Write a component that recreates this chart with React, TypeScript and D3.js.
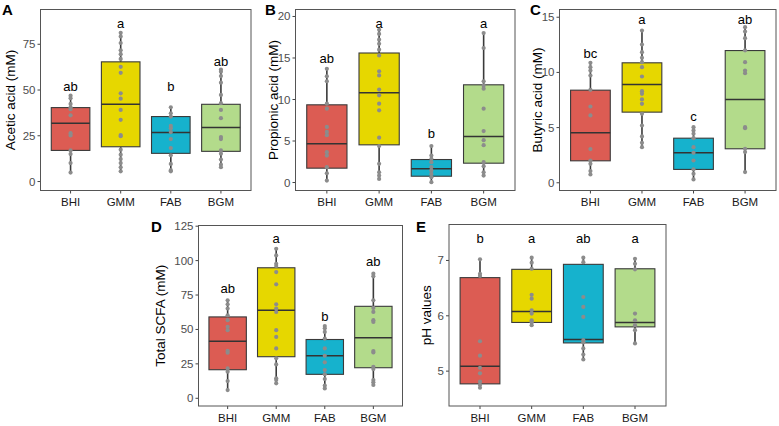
import React from "react";
import * as d3 from "d3";

const categories = ["BHI", "GMM", "FAB", "BGM"];
const fills = ["#DC5C53", "#E6D700", "#16B2CD", "#B3DB8B"];

// box stats per group: [whiskerLow, q1, median, q3, whiskerHigh]
const aceticBox = [
  [4.9, 17.0, 31.9, 40.4, 46.9],
  [5.6, 19.0, 42.2, 65.4, 81.3],
  [5.6, 15.4, 26.8, 35.5, 40.6],
  [7.8, 16.5, 29.5, 42.2, 61.2],
];
const aceticPoints = [
  [46.9, 45.5, 42.4, 40.6, 39.5, 36.2, 26.4, 25.2, 17.0, 15.0, 10.1, 4.9],
  [81.3, 79.3, 75.7, 71.7, 69.6, 67.0, 62.7, 59.4, 48.2, 45.3, 39.1, 33.7, 25.4, 24.8, 17.4, 14.7, 12.3, 10.1, 7.8, 5.6],
  [40.6, 37.3, 35.5, 30.4, 29.1, 27.0, 23.2, 18.3, 14.3, 9.6, 6.2, 5.6],
  [61.2, 60.0, 57.6, 54.0, 47.3, 42.8, 39.1, 34.6, 24.3, 23.2, 17.0, 15.2, 12.0, 9.2, 7.8],
];
const aceticLetters = ["ab", "a", "b", "ab"];
const aceticLetterY = [51.8, 86.6, 51.8, 65.8];
const aceticTicks = [0, 25, 50, 75];

const propionicBox = [
  [0.24, 1.73, 4.66, 9.36, 13.7],
  [0.44, 4.54, 10.8, 15.6, 18.4],
  [0.04, 0.76, 1.65, 2.77, 4.4],
  [0.84, 2.33, 5.54, 11.77, 18.0],
];
const propionicPoints = [
  [13.7, 12.8, 12.2, 9.5, 8.9, 6.7, 6.1, 5.7, 3.65, 3.25, 1.85, 1.12, 0.24],
  [18.4, 17.9, 17.2, 16.7, 16.0, 15.3, 13.4, 12.9, 11.2, 10.5, 9.5, 8.7, 5.4, 4.4, 2.25, 1.24, 0.84, 0.44],
  [4.4, 3.25, 2.85, 2.45, 1.85, 1.45, 1.04, 0.64, 0.04],
  [18.0, 16.2, 12.2, 11.7, 11.3, 8.9, 6.2, 5.1, 4.5, 2.45, 1.97, 1.24, 0.84],
];
const propionicLetters = ["ab", "a", "b", "a"];
const propionicLetterY = [14.9, 19.2, 5.94, 19.2];
const propionicTicks = [0, 5, 10, 15, 20];

const butyricBox = [
  [0.75, 1.99, 4.53, 8.39, 10.87],
  [3.23, 6.4, 8.9, 10.87, 13.8],
  [0.3, 1.21, 2.72, 4.04, 5.04],
  [0.97, 3.08, 7.55, 11.98, 14.1],
];
const butyricPoints = [
  [10.87, 10.47, 10.17, 9.72, 8.42, 6.91, 6.1, 3.05, 2.02, 1.72, 1.06, 0.75],
  [13.79, 12.53, 11.83, 11.32, 10.93, 10.47, 9.63, 8.3, 8.06, 7.55, 7.15, 6.25, 5.19, 4.2, 3.62, 3.23],
  [5.04, 4.74, 4.44, 4.04, 3.23, 2.72, 2.02, 1.21, 0.81, 0.3],
  [14.1, 13.7, 13.1, 12.0, 10.93, 10.17, 9.93, 5.04, 4.95, 3.08, 2.78, 0.97],
];
const butyricLetters = ["bc", "a", "c", "ab"];
const butyricLetterY = [11.68, 14.76, 6.04, 14.76];
const butyricTicks = [0, 5, 10, 15];

const totalBox = [
  [6.0, 20.75, 41.5, 59.1, 71.2],
  [10.9, 30.2, 63.9, 94.8, 108.6],
  [7.2, 17.4, 30.9, 42.7, 52.5],
  [9.7, 22.2, 43.9, 66.8, 90.5],
];
const totalPoints = [
  [71.2, 68.3, 65.2, 60.3, 56.7, 51.9, 49.5, 34.5, 33.1, 21.7, 19.3, 12.5, 6.0],
  [108.6, 103.8, 97.7, 96.0, 91.7, 82.8, 68.3, 65.2, 62.7, 49.5, 44.6, 36.2, 29.0, 24.6, 14.5, 13.3, 10.9],
  [52.5, 50.8, 48.2, 43.4, 36.2, 30.9, 26.1, 20.5, 17.4, 14.0, 9.2, 7.2],
  [90.5, 88.6, 71.2, 65.6, 62.7, 56.7, 55.5, 34.3, 33.3, 22.9, 21.2, 13.3, 11.6, 9.7],
];
const totalLetters = ["ab", "a", "b", "ab"];
const totalLetterY = [80.1, 116.3, 59.6, 99.7];
const totalTicks = [0, 25, 50, 75, 100, 125];

const phBox = [
  [4.7, 4.77, 5.09, 6.69, 7.02],
  [5.83, 5.88, 6.08, 6.84, 7.05],
  [5.21, 5.51, 5.57, 6.93, 7.05],
  [5.5, 5.8, 5.88, 6.85, 7.03],
];
const phPoints = [
  [7.02, 6.76, 6.72, 5.54, 5.28, 5.06, 4.96, 4.81, 4.75, 4.7],
  [7.05, 6.96, 6.85, 6.38, 6.31, 6.1, 6.04, 5.92, 5.88, 5.83],
  [7.05, 6.97, 6.34, 6.16, 5.98, 5.56, 5.52, 5.41, 5.3, 5.21],
  [7.03, 6.94, 6.84, 6.04, 5.92, 5.83, 5.74, 5.5],
];
const phLetters = ["b", "a", "ab", "a"];
const phLetterY = [7.4, 7.4, 7.4, 7.4];
const phTicks = [5, 6, 7];

const FONT = "'Liberation Sans', Arial, Helvetica, sans-serif";

type PanelProps = {
  tag: string;
  tagX: number;
  tagY: number;
  title: string;
  titleX: number;
  left: number;
  right: number;
  top: number;
  bottom: number;
  yDomain: [number, number];
  ticks: number[];
  box: number[][];
  points: number[][];
  letters: string[];
  letterY: number[];
};

function Panel(p: PanelProps) {
  const x = d3.scalePoint<string>().domain(categories).range([p.left, p.right]).padding(0.6);
  const y = d3.scaleLinear().domain(p.yDomain).range([p.bottom, p.top]);
  const bw = x.step() * 0.77;
  return (
    <g>
      <text x={p.tagX} y={p.tagY} fontSize={15} fontWeight="bold" fontFamily={FONT} fill="#000">
        {p.tag}
      </text>
      <text
        transform={`translate(${p.titleX},${(p.top + p.bottom) / 2}) rotate(-90)`}
        textAnchor="middle"
        dominantBaseline="central"
        fontSize={13.5}
        fontFamily={FONT}
        fill="#000"
      >
        {p.title}
      </text>
      {p.ticks.map((t) => (
        <g key={t}>
          <line x1={p.left - 3} x2={p.left} y1={y(t)} y2={y(t)} stroke="#444" strokeWidth={1} />
          <text x={p.left - 5} y={y(t)} textAnchor="end" dominantBaseline="central" fontSize={11.5} fontFamily={FONT} fill="#4D4D4D">
            {t}
          </text>
        </g>
      ))}
      {categories.map((c, i) => {
        const cx = x(c)!;
        const [lo, q1, med, q3, hi] = p.box[i];
        return (
          <g key={c}>
            <line x1={cx} x2={cx} y1={y(hi)} y2={y(q3)} stroke="#3A3A3A" strokeWidth={1.6} />
            <line x1={cx} x2={cx} y1={y(q1)} y2={y(lo)} stroke="#3A3A3A" strokeWidth={1.6} />
            <rect x={cx - bw / 2} y={y(q3)} width={bw} height={y(q1) - y(q3)} fill={fills[i]} stroke="#3A3A3A" strokeWidth={1.1} />
            <line x1={cx - bw / 2} x2={cx + bw / 2} y1={y(med)} y2={y(med)} stroke="#333" strokeWidth={1.5} />
            {p.points[i].map((v, j) => (
              <circle key={j} cx={cx} cy={y(v)} r={2.1} fill="#8C8C8C" />
            ))}
            <text x={cx} y={y(p.letterY[i])} textAnchor="middle" dominantBaseline="central" fontSize={13} fontFamily={FONT} fill="#000">
              {p.letters[i]}
            </text>
            <line x1={cx} x2={cx} y1={p.bottom} y2={p.bottom + 3} stroke="#444" strokeWidth={1} />
            <text x={cx} y={p.bottom + 15.5} textAnchor="middle" fontSize={11.5} fontFamily={FONT} fill="#1A1A1A">
              {c}
            </text>
          </g>
        );
      })}
      <rect x={p.left} y={p.top} width={p.right - p.left} height={p.bottom - p.top} fill="none" stroke="#555" strokeWidth={1} />
    </g>
  );
}

export default function App() {
  return (
    <svg width={779} height={426} style={{ position: "absolute", left: 0, top: 0, background: "#fff" }}>
      <rect width={779} height={426} fill="#fff" />
      <Panel tag="A" tagX={2} tagY={15} title="Acetic acid (mM)" titleX={10} left={40.5} right={251} top={9.5} bottom={190.5}
        yDomain={[-4.9, 94]} ticks={aceticTicks} box={aceticBox} points={aceticPoints} letters={aceticLetters} letterY={aceticLetterY} />
      <Panel tag="B" tagX={265} tagY={15} title="Propionic acid (mM)" titleX={273} left={295.5} right={515} top={9.5} bottom={190.5}
        yDomain={[-0.96, 20.84]} ticks={propionicTicks} box={propionicBox} points={propionicPoints} letters={propionicLetters} letterY={propionicLetterY} />
      <Panel tag="C" tagX={530} tagY={15} title="Butyric acid (mM)" titleX={537} left={559.5} right={776} top={9.5} bottom={190.5}
        yDomain={[-0.7, 15.7]} ticks={butyricTicks} box={butyricBox} points={butyricPoints} letters={butyricLetters} letterY={butyricLetterY} />
      <Panel tag="D" tagX={151} tagY={232} title="Total SCFA (mM)" titleX={160} left={198.5} right={402.5} top={225.5} bottom={406}
        yDomain={[-5.6, 125.5]} ticks={totalTicks} box={totalBox} points={totalPoints} letters={totalLetters} letterY={totalLetterY} />
      <Panel tag="E" tagX={416} tagY={232} title="pH values" titleX={426} left={449} right={666} top={224.5} bottom={406}
        yDomain={[4.37, 7.65]} ticks={phTicks} box={phBox} points={phPoints} letters={phLetters} letterY={phLetterY} />
    </svg>
  );
}
